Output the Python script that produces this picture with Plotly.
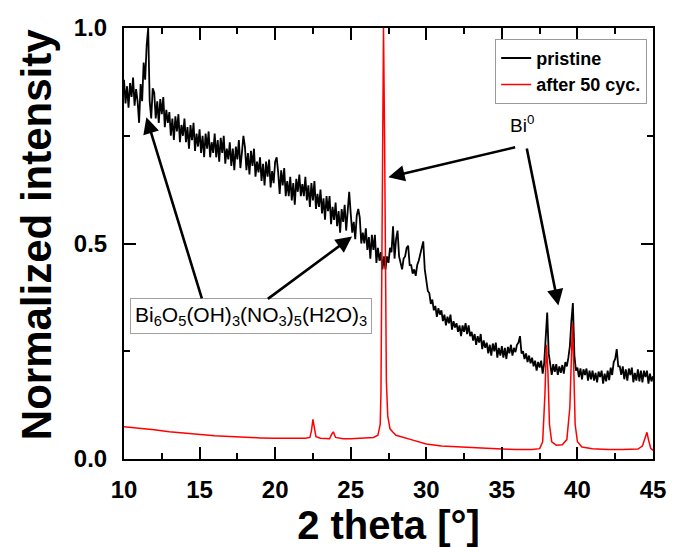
import numpy as np
import plotly.graph_objects as go

# Pristine powder pattern, recorded on a 0.1 deg grid from 10 deg to 45 deg
PRISTINE_START = 10.0
PRISTINE_STEP = 0.1
PRISTINE = [
    0.880, 0.825, 0.865, 0.815, 0.872, 0.840, 0.885, 0.820, 0.858, 0.830,   # 10
    0.780, 0.870, 0.830, 0.920, 0.880, 0.960, 1.000, 0.830, 0.790, 0.860,   # 11
    0.850, 0.790, 0.830, 0.780, 0.835, 0.800, 0.840, 0.770, 0.810, 0.780,   # 12
    0.805, 0.750, 0.790, 0.740, 0.795, 0.760, 0.800, 0.735, 0.775, 0.750,   # 13
    0.790, 0.735, 0.770, 0.720, 0.775, 0.740, 0.780, 0.715, 0.755, 0.725,   # 14
    0.765, 0.710, 0.750, 0.700, 0.755, 0.720, 0.760, 0.700, 0.735, 0.710,   # 15
    0.755, 0.700, 0.740, 0.690, 0.745, 0.710, 0.750, 0.685, 0.720, 0.695,   # 16
    0.735, 0.680, 0.720, 0.670, 0.725, 0.695, 0.740, 0.675, 0.710, 0.750,   # 17
    0.725, 0.670, 0.710, 0.660, 0.715, 0.680, 0.720, 0.655, 0.690, 0.665,   # 18
    0.700, 0.645, 0.685, 0.635, 0.690, 0.655, 0.695, 0.630, 0.668, 0.640,   # 19
    0.690, 0.700, 0.665, 0.615, 0.670, 0.635, 0.675, 0.610, 0.645, 0.610,   # 20
    0.655, 0.600, 0.640, 0.590, 0.650, 0.620, 0.660, 0.610, 0.638, 0.610,   # 21
    0.655, 0.600, 0.635, 0.585, 0.640, 0.600, 0.645, 0.580, 0.615, 0.585,   # 22
    0.625, 0.570, 0.605, 0.555, 0.610, 0.575, 0.610, 0.545, 0.585, 0.555,   # 23
    0.595, 0.540, 0.575, 0.525, 0.580, 0.550, 0.590, 0.530, 0.575, 0.620,   # 24
    0.570, 0.525, 0.550, 0.510, 0.565, 0.580, 0.560, 0.500, 0.525, 0.500,   # 25
    0.535, 0.485, 0.515, 0.465, 0.520, 0.485, 0.520, 0.455, 0.490, 0.460,   # 26
    0.480, 0.440, 0.470, 0.440, 0.470, 0.455, 0.490, 0.480, 0.540, 0.465,   # 27
    0.510, 0.530, 0.470, 0.450, 0.440, 0.465, 0.470, 0.490, 0.495, 0.450,   # 28
    0.450, 0.430, 0.440, 0.425, 0.450, 0.460, 0.475, 0.490, 0.505, 0.440,   # 29
    0.415, 0.390, 0.385, 0.360, 0.370, 0.345, 0.355, 0.330, 0.350, 0.335,   # 30
    0.345, 0.320, 0.335, 0.310, 0.330, 0.315, 0.335, 0.300, 0.320, 0.305,   # 31
    0.315, 0.295, 0.310, 0.285, 0.310, 0.295, 0.315, 0.290, 0.310, 0.285,   # 32
    0.295, 0.275, 0.290, 0.265, 0.285, 0.270, 0.290, 0.255, 0.275, 0.258,   # 33
    0.270, 0.245, 0.265, 0.240, 0.268, 0.250, 0.270, 0.235, 0.258, 0.240,   # 34
    0.262, 0.235, 0.258, 0.232, 0.260, 0.245, 0.265, 0.240, 0.258, 0.248,   # 35
    0.265, 0.270, 0.285, 0.245, 0.250, 0.232, 0.245, 0.225, 0.240, 0.222,   # 36
    0.235, 0.215, 0.228, 0.205, 0.225, 0.212, 0.228, 0.198, 0.222, 0.270,   # 37
    0.340, 0.245, 0.215, 0.195, 0.220, 0.202, 0.220, 0.195, 0.215, 0.200,   # 38
    0.218, 0.198, 0.225, 0.215, 0.235, 0.262, 0.320, 0.362, 0.240, 0.205,   # 39
    0.212, 0.190, 0.210, 0.185, 0.208, 0.195, 0.210, 0.182, 0.205, 0.185,   # 40
    0.205, 0.182, 0.200, 0.178, 0.203, 0.190, 0.205, 0.175, 0.198, 0.180,   # 41
    0.205, 0.183, 0.212, 0.195, 0.225, 0.232, 0.255, 0.215, 0.215, 0.195,   # 42
    0.215, 0.185, 0.208, 0.182, 0.210, 0.195, 0.212, 0.178, 0.200, 0.182,   # 43
    0.208, 0.180, 0.205, 0.178, 0.205, 0.190, 0.205, 0.175, 0.198, 0.180,   # 44
    0.192,                                                                   # 45
]

# Pattern after 50 cycles (Bi metal reflections)
CYCLED_2THETA = [
    10.0, 11.0, 12.0, 13.0, 14.0, 15.0, 16.0, 17.0, 18.0, 19.0, 20.0, 21.0, 22.0,
    22.3, 22.4, 22.5, 22.6, 22.7, 23.0, 23.6, 23.75, 23.85, 24.0, 24.5, 25.0, 26.0,
    26.5, 26.8, 26.95, 27.0, 27.05, 27.1, 27.17, 27.24, 27.3, 27.36, 27.45, 27.6,
    27.8, 28.0, 29.0, 30.0, 31.0, 32.0, 33.0, 34.0, 35.0, 36.0, 37.0, 37.5, 37.7,
    37.85, 37.95, 38.05, 38.15, 38.3, 38.6, 39.0, 39.3, 39.5, 39.6, 39.67, 39.75,
    39.85, 40.0, 40.3, 41.0, 42.0, 43.0, 44.0, 44.3, 44.5, 44.6, 44.7, 44.85, 45.0,
]
CYCLED = [
    0.075, 0.072, 0.068, 0.063, 0.060, 0.056, 0.054, 0.052, 0.050, 0.049, 0.048, 0.048, 0.048,
    0.050, 0.065, 0.092, 0.068, 0.052, 0.048, 0.047, 0.058, 0.063, 0.050, 0.047, 0.047, 0.048,
    0.050, 0.055, 0.080, 0.150, 0.400, 0.750, 1.000, 0.750, 0.420, 0.180, 0.100, 0.070,
    0.062, 0.055, 0.045, 0.035, 0.030, 0.028, 0.026, 0.025, 0.023, 0.022, 0.022, 0.024, 0.040,
    0.150, 0.265, 0.200, 0.080, 0.040, 0.032, 0.033, 0.045, 0.120, 0.280, 0.315, 0.220,
    0.080, 0.040, 0.028, 0.024, 0.022, 0.022, 0.023, 0.030, 0.055, 0.062, 0.045, 0.025, 0.020,
]

SERIES_NAMES = ["pristine", "after 50 cyc."]
X_TITLE = "2 theta [°]"
Y_TITLE = "Normalized intensity"
PHASE_LABEL = "Bi<sub>6</sub>O<sub>5</sub>(OH)<sub>3</sub>(NO<sub>3</sub>)<sub>5</sub>(H2O)<sub>3</sub>"
BI_LABEL = "Bi<sup>0</sup>"

pristine_x = np.round(PRISTINE_START + PRISTINE_STEP * np.arange(len(PRISTINE)), 2)

FONT = "Liberation Sans, Arial, sans-serif"

fig = go.Figure()
fig.add_trace(go.Scatter(x=pristine_x, y=PRISTINE, mode="lines", name=SERIES_NAMES[0],
                         line=dict(color="black", width=1.8)))
fig.add_trace(go.Scatter(x=CYCLED_2THETA, y=CYCLED, mode="lines", name=SERIES_NAMES[1],
                         line=dict(color="#ff0000", width=1.5)))

# Phase label in a box, with two arrows to the hydroxide-nitrate reflections
fig.add_annotation(x=18.4, y=0.331, xref="x", yref="y", text=PHASE_LABEL, showarrow=False,
                   font=dict(family=FONT, size=21, color="black"),
                   bordercolor="#a0a0a0", borderwidth=1, borderpad=4, bgcolor="white")
fig.add_annotation(text=BI_LABEL, x=36.32, y=0.777, xref="x", yref="y", showarrow=False,
                   font=dict(family=FONT, size=19, color="black"))

arrows = [
    ((15.18, 0.369), (11.48, 0.793)),
    ((19.42, 0.369), (25.09, 0.516)),
    ((35.98, 0.724), (27.49, 0.654)),
    ((36.63, 0.724), (38.74, 0.356)),
]
for (tx, ty), (hx, hy) in arrows:
    fig.add_annotation(x=hx, y=hy, ax=tx, ay=ty, xref="x", yref="y", axref="x", ayref="y",
                       text="", showarrow=True, arrowhead=2, arrowsize=1.25, arrowwidth=2.6,
                       arrowcolor="black", standoff=0, startstandoff=0)

# Vertical axis title
fig.add_annotation(text=Y_TITLE, xref="paper", yref="paper", x=-0.165, y=0.521,
                   xanchor="center", yanchor="middle", textangle=-90, showarrow=False,
                   font=dict(family=FONT, size=42, color="black", weight="bold"))

axis_common = dict(
    showline=True, linecolor="black", linewidth=2, mirror="allticks",
    ticks="inside", ticklen=12, tickwidth=2, tickcolor="black",
    showgrid=False, zeroline=False,
    tickfont=dict(family=FONT, size=24, color="black", weight="bold"),
)

fig.update_xaxes(range=[10, 45], dtick=5, tick0=10,
                 minor=dict(dtick=2.5, ticks="inside", ticklen=6, tickwidth=2, tickcolor="black"),
                 title=dict(text=X_TITLE, font=dict(family=FONT, size=40, color="black", weight="bold"),
                            standoff=4),
                 ticklabelstandoff=8, **axis_common)
fig.update_yaxes(range=[0, 1], dtick=0.5, tick0=0, tickformat=".1f",
                 minor=dict(dtick=0.25, ticks="inside", ticklen=6, tickwidth=2, tickcolor="black"),
                 ticklabelstandoff=10, **axis_common)

fig.update_layout(
    width=678, height=547,
    margin=dict(l=124, r=18, t=28, b=85),
    paper_bgcolor="white", plot_bgcolor="white",
    showlegend=True,
    legend=dict(x=0.989, y=0.975, xanchor="right", yanchor="top",
                bordercolor="#9a9a9a", borderwidth=1, bgcolor="white",
                font=dict(family=FONT, size=18, color="black", weight="bold"),
                tracegroupgap=0, itemwidth=30),
)

fig.write_html("out.html")
